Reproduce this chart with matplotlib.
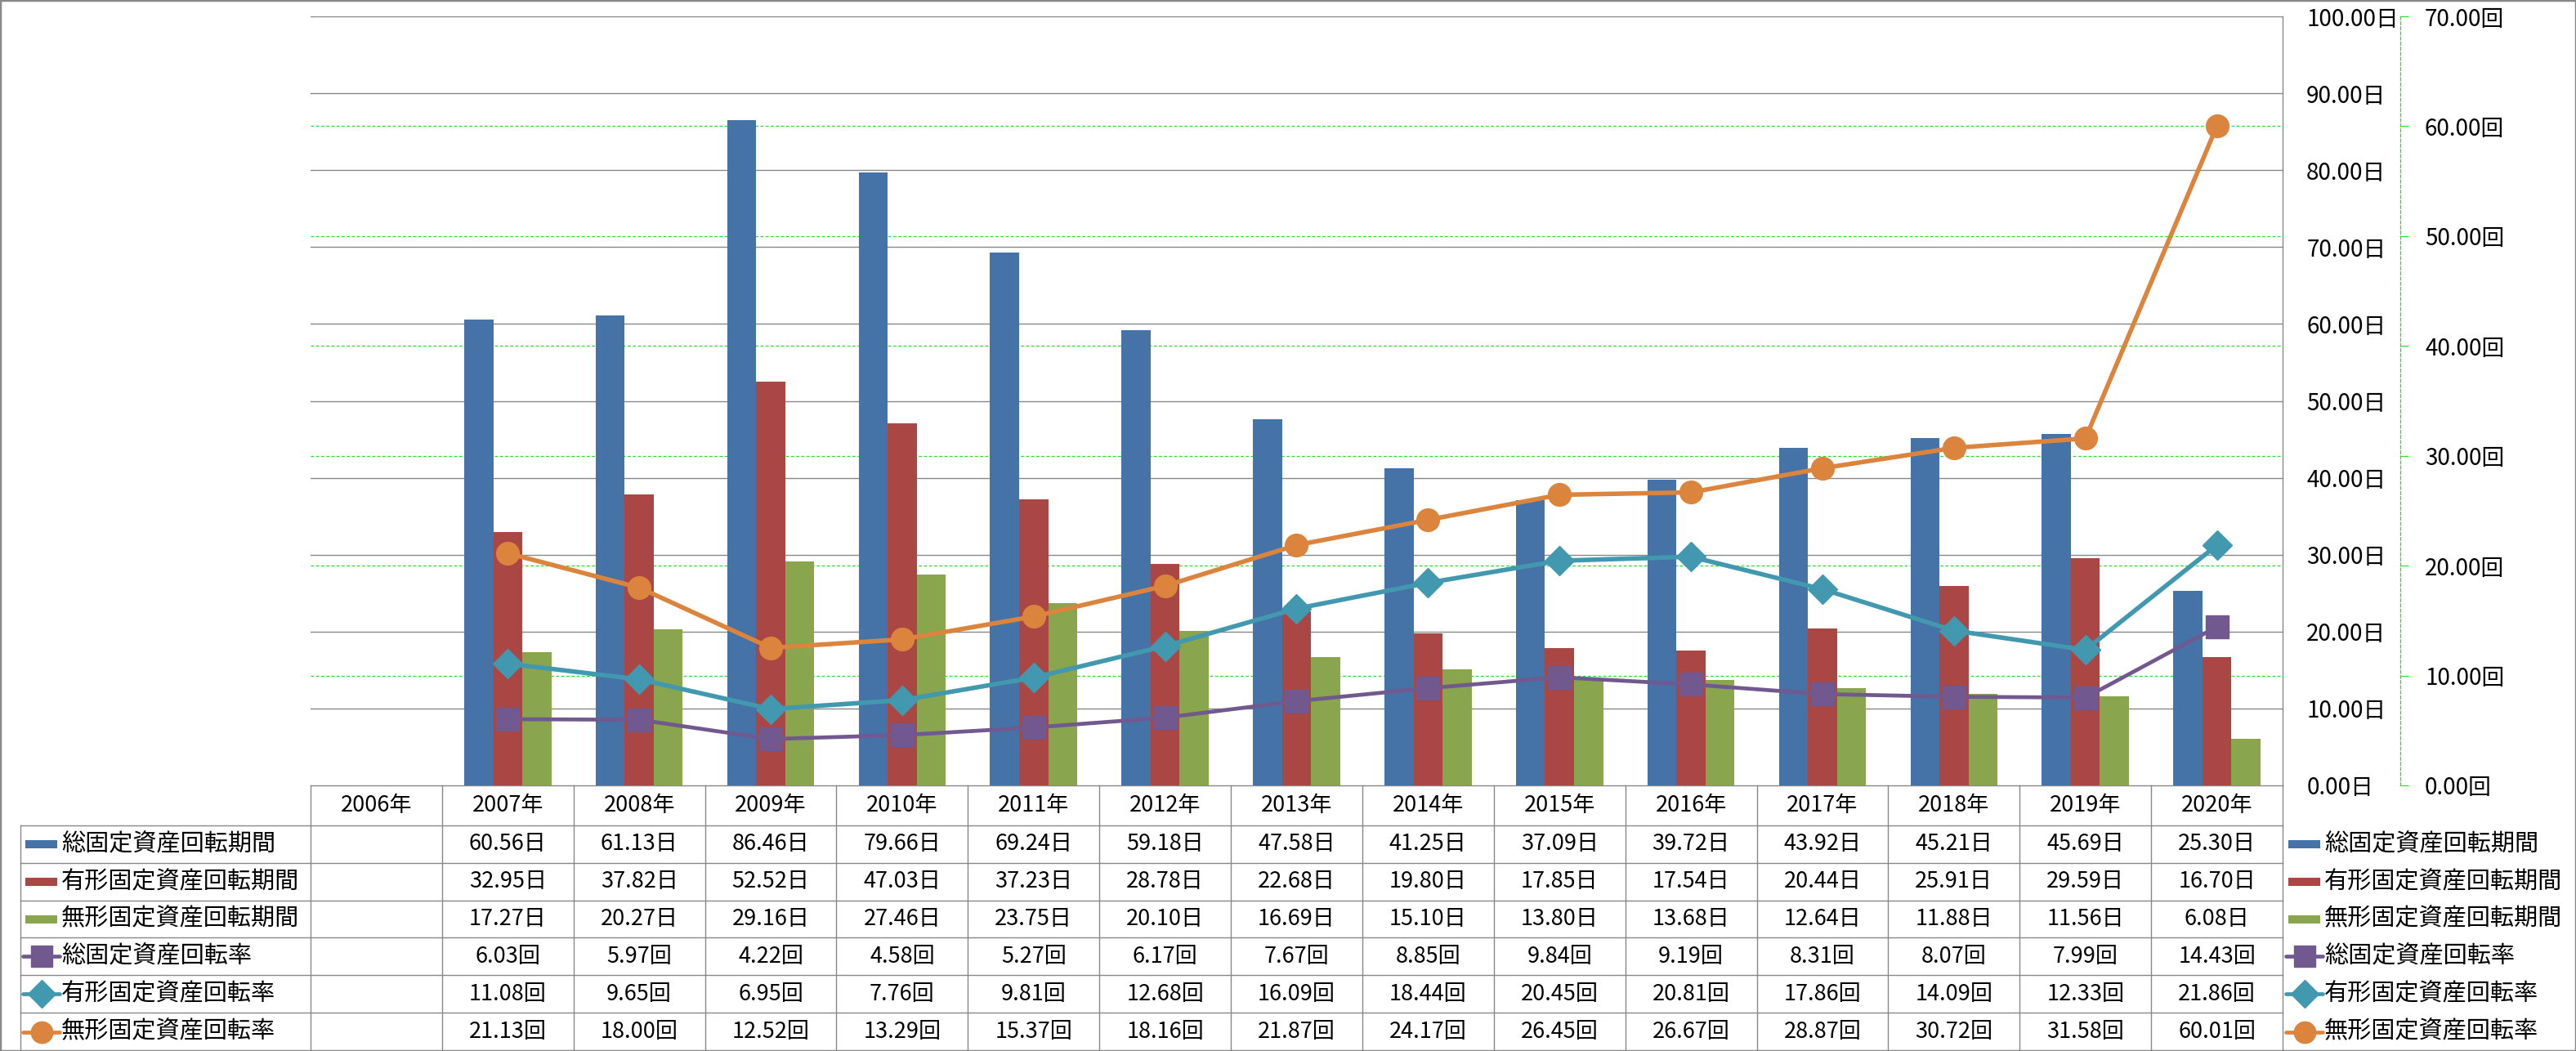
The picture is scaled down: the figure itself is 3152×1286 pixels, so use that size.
import numpy as np
import matplotlib
matplotlib.use("Agg")
import matplotlib.pyplot as plt
from matplotlib import transforms
from matplotlib.patches import Rectangle
from matplotlib.lines import Line2D

plt.rcParams['font.family'] = ['Noto Sans CJK JP', 'DejaVu Sans']

years = ['2006年', '2007年', '2008年', '2009年', '2010年', '2011年', '2012年', '2013年',
         '2014年', '2015年', '2016年', '2017年', '2018年', '2019年', '2020年']

# 日 (days) series - bars
total_days = [np.nan, 60.56, 61.13, 86.46, 79.66, 69.24, 59.18, 47.58, 41.25, 37.09, 39.72, 43.92, 45.21, 45.69, 25.30]
tangible_days = [np.nan, 32.95, 37.82, 52.52, 47.03, 37.23, 28.78, 22.68, 19.80, 17.85, 17.54, 20.44, 25.91, 29.59, 16.70]
intangible_days = [np.nan, 17.27, 20.27, 29.16, 27.46, 23.75, 20.10, 16.69, 15.10, 13.80, 13.68, 12.64, 11.88, 11.56, 6.08]

# 回 (times) series - lines
total_rate = [np.nan, 6.03, 5.97, 4.22, 4.58, 5.27, 6.17, 7.67, 8.85, 9.84, 9.19, 8.31, 8.07, 7.99, 14.43]
tangible_rate = [np.nan, 11.08, 9.65, 6.95, 7.76, 9.81, 12.68, 16.09, 18.44, 20.45, 20.81, 17.86, 14.09, 12.33, 21.86]
intangible_rate = [np.nan, 21.13, 18.00, 12.52, 13.29, 15.37, 18.16, 21.87, 24.17, 26.45, 26.67, 28.87, 30.72, 31.58, 60.01]

names = ['総固定資産回転期間', '有形固定資産回転期間', '無形固定資産回転期間',
         '総固定資産回転率', '有形固定資産回転率', '無形固定資産回転率']
colors = ['#4572A7', '#AA4643', '#89A54E', '#71588F', '#4198AF', '#DB843D']
markers = [None, None, None, 's', 'D', 'o']
msizes = [0, 0, 0, 19.5, 18.5, 20]

day_max, rate_max = 100, 70
grid_gray = '#888888'
grid_green = '#22E022'

W, H = 3152, 1286
fig = plt.figure(figsize=(W / 100, H / 100), dpi=100)

def fx(px):
    return px / W

def fy(py):
    return 1 - py / H

x0, x1, y0, y1 = 380, 2793, 20, 961
ax = fig.add_axes([fx(x0), fy(y1), fx(x1) - fx(x0), fy(y0) - fy(y1)])
ax2 = ax.twinx()
ax2.set_position(ax.get_position())

x = np.arange(len(years))
bw = 0.221
ax.bar(x - bw, total_days, bw, color=colors[0], zorder=3)
ax.bar(x, tangible_days, bw, color=colors[1], zorder=3)
ax.bar(x + bw, intangible_days, bw, color=colors[2], zorder=3)

ax.set_xlim(-0.5, len(years) - 0.5)
ax.set_ylim(0, day_max)
ax.set_xticks([])
day_ticks = np.arange(0, day_max + 1, 10)
ax.set_yticks(day_ticks)
ax.set_yticklabels([f'{v:.2f}日' for v in day_ticks])
ax.yaxis.tick_right()
ax.tick_params(axis='y', length=0, pad=21, labelsize=20)
for v in day_ticks[1:]:
    ax.axhline(v, color=grid_gray, lw=1.0, zorder=2)
rate_ticks = np.arange(0, rate_max + 1, 10)
for v in rate_ticks[1:-1]:
    ax.axhline(v * day_max / rate_max, color=grid_green, lw=0.9, ls=(0, (3, 2)), zorder=1.5)
for s in ['left', 'top']:
    ax.spines[s].set_visible(False)
ax.spines['right'].set_color(grid_gray)
ax.spines['bottom'].set_color(grid_gray)
ax.spines['right'].set_linewidth(1.0)
ax.spines['bottom'].set_linewidth(1.0)

rates = [total_rate, tangible_rate, intangible_rate]
lws = [3.4, 4.0, 4.0]
for i, r in enumerate(rates):
    c = colors[3 + i]
    ax2.plot(x, r, color=c, lw=lws[i], marker=markers[3 + i], ms=msizes[3 + i],
             mfc=c, mec=c, mew=1.0, zorder=4, solid_capstyle='round')
ax2.set_ylim(0, rate_max)
ax2.set_yticks(rate_ticks)
ax2.set_yticklabels([f'{v:.2f}回' for v in rate_ticks])
ax2.tick_params(axis='y', length=7.2, width=0.8, color=grid_green, pad=14.4, labelsize=20)
for s in ['left', 'top', 'bottom']:
    ax2.spines[s].set_visible(False)
ax2.spines['right'].set_position(('axes', (2937 - x0) / (x1 - x0)))
ax2.spines['right'].set_color(grid_green)
ax2.spines['right'].set_linestyle((0, (3, 2)))
ax2.spines['right'].set_linewidth(0.9)

# data table below the plot
tb = transforms.blended_transform_factory(ax.transData, fig.transFigure)
row_edges = [961, 1010, 1056, 1102, 1147, 1193, 1239, 1286]
for k in range(len(years) + 1):
    ax.add_line(Line2D([k - 0.5, k - 0.5], [fy(961), fy(1286)], transform=tb,
                       color=grid_gray, lw=1.0, clip_on=False))
for ry in row_edges[1:-1]:
    fig.add_artist(Line2D([fx(25), fx(x1)], [fy(ry), fy(ry)], color=grid_gray, lw=1.0))
fig.add_artist(Line2D([fx(25), fx(25)], [fy(1010), fy(1286)], color=grid_gray, lw=1.0))

hc = fy((row_edges[0] + row_edges[1]) / 2)
for k, yr in enumerate(years):
    ax.text(k, hc, yr, transform=tb, ha='center', va='center', fontsize=19.5, clip_on=False)

series = [total_days, tangible_days, intangible_days, total_rate, tangible_rate, intangible_rate]
units = ['日', '日', '日', '回', '回', '回']
for i, vals in enumerate(series):
    cy = fy((row_edges[i + 1] + row_edges[i + 2]) / 2)
    for k, v in enumerate(vals):
        if np.isnan(v):
            continue
        ax.text(k, cy, f'{v:.2f}{units[i]}', transform=tb, ha='center', va='center',
                fontsize=19.5, clip_on=False)

def legend_key(px_left, cy, i):
    c = colors[i]
    if markers[i] is None:
        fig.add_artist(Rectangle((fx(px_left), cy - 5 / H), 39 / W, 10 / H,
                                 facecolor=c, edgecolor='none'))
    else:
        fig.add_artist(Line2D([fx(px_left - 3), fx(px_left + 42)], [cy, cy], color=c, lw=3.4,
                              solid_capstyle='round'))
        fig.add_artist(Line2D([fx(px_left + 19.5)], [cy], color=c, marker=markers[i],
                              ms=msizes[i] - 1, mfc=c, mec=c))

for i, nm in enumerate(names):
    cy = fy((row_edges[i + 1] + row_edges[i + 2]) / 2)
    legend_key(31, cy, i)
    fig.text(fx(75), cy, nm, ha='left', va='center', fontsize=21)
    legend_key(2800, cy, i)
    fig.text(fx(2844), cy, nm, ha='left', va='center', fontsize=21)

fig.add_artist(Rectangle((0, 0), 1, 1, transform=fig.transFigure, fill=False,
                         edgecolor='#888888', lw=2.5))

fig.savefig('out.png', dpi=100)
